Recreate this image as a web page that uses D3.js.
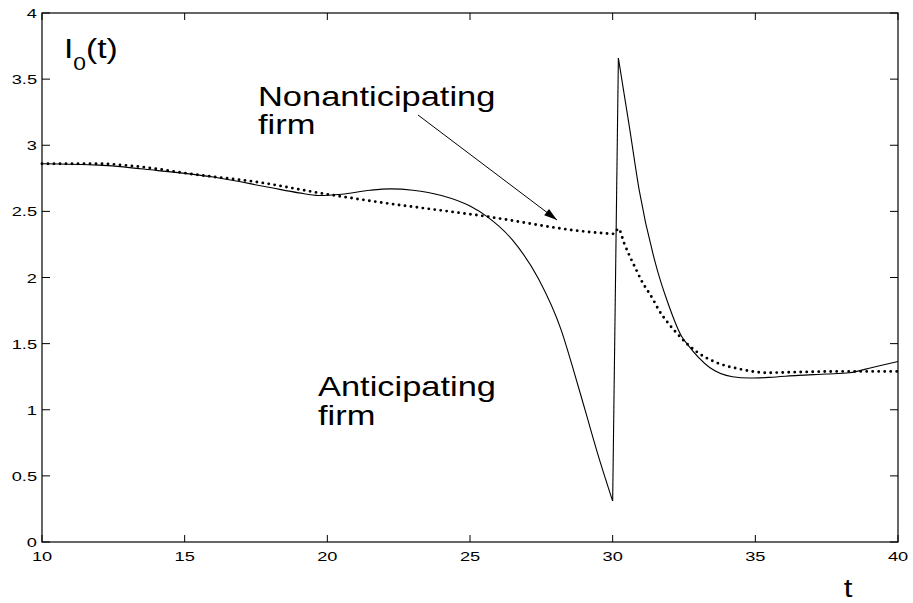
<!DOCTYPE html>
<html>
<head>
<meta charset="utf-8">
<script src="https://cdn.jsdelivr.net/npm/d3@7"></script>
<style>
  body { margin: 0; background: #fff; }
  svg { display: block; font-family: "Liberation Sans", Arial, sans-serif; }
</style>
</head>
<body>
<div id="chart"></div>
<script>
// values
const solidT = [10, 12, 14, 16, 18, 19, 19.7, 20.5, 21.5, 22.2, 23, 24, 25, 25.6, 26.5, 27.4, 28.2, 28.6, 29.07, 29.5, 30.0,
                30.2, 30.6, 30.93, 31.56, 31.9, 32.43, 32.6, 33.4, 34.2, 34.8, 35.5, 36.5, 37.5, 38.3, 39.1, 40];
const solidV = [2.86, 2.85, 2.81, 2.76, 2.68, 2.64, 2.62, 2.63, 2.66, 2.67, 2.66, 2.62, 2.54, 2.46, 2.28, 1.99, 1.60, 1.32, 0.97, 0.65, 0.31,
                3.66, 3.12, 2.66, 2.06, 1.83, 1.55, 1.50, 1.32, 1.25, 1.24, 1.245, 1.26, 1.27, 1.28, 1.32, 1.365];
const solidBreaks = [20, 21];   // sharp corners: bottom of the dip and top of the spike

const dotT = [10, 12, 13.1, 15.5, 17.6, 19.7, 21.8, 25.3, 29.4, 30.05,
              30.2, 30.4, 30.6, 30.8, 31.0, 31.4, 31.6, 32.0, 32.2, 32.6, 33.0, 33.6, 34.4, 35.4, 36.5, 38, 40];
const dotV = [2.86, 2.86, 2.845, 2.775, 2.72, 2.64, 2.57, 2.47, 2.34, 2.33,
              2.37, 2.26, 2.16, 2.07, 1.98, 1.84, 1.76, 1.64, 1.59, 1.50, 1.43, 1.36, 1.31, 1.28, 1.285, 1.29, 1.29];

const xTicks = [10, 15, 20, 25, 30, 35, 40];
const yTicks = [0, 0.5, 1, 1.5, 2, 2.5, 3, 3.5, 4];
const yTickLabels = ["0", "0.5", "1", "1.5", "2", "2.5", "3", "3.5", "4"];

const width = 913;
const height = 603;
const marginTop = 13;
const marginRight = 15;
const marginBottom = 61;
const marginLeft = 42;

const x = d3.scaleLinear([10, 40], [marginLeft, width - marginRight]);
const y = d3.scaleLinear([0, 4], [height - marginBottom, marginTop]);

const svg = d3.select("#chart").append("svg")
    .attr("width", width)
    .attr("height", height)
    .attr("viewBox", [0, 0, width, height]);

// text in the picture is wider than the font's natural shape
function label(px, py, str, size, anchor, sx) {
    return svg.append("text")
        .attr("transform", `translate(${px},${py}) scale(${sx},1)`)
        .attr("font-size", size)
        .attr("text-anchor", anchor)
        .attr("fill", "#000")
        .text(str);
}

// frame
svg.append("rect")
    .attr("x", x(10)).attr("y", y(4))
    .attr("width", x(40) - x(10)).attr("height", y(0) - y(4))
    .attr("fill", "none").attr("stroke", "#000").attr("stroke-width", 1.2);

// inward ticks on all four sides
const tickLen = 7;
const g = svg.append("g").attr("stroke", "#000").attr("stroke-width", 1);
xTicks.forEach(t => {
    g.append("line").attr("x1", x(t)).attr("x2", x(t)).attr("y1", y(0)).attr("y2", y(0) - tickLen);
    g.append("line").attr("x1", x(t)).attr("x2", x(t)).attr("y1", y(4)).attr("y2", y(4) + tickLen);
    label(x(t), y(0) + 19, String(t), 13.5, "middle", 1.35);
});
yTicks.forEach((v, i) => {
    g.append("line").attr("x1", x(10)).attr("x2", x(10) + tickLen + 1).attr("y1", y(v)).attr("y2", y(v));
    g.append("line").attr("x1", x(40)).attr("x2", x(40) - tickLen - 1).attr("y1", y(v)).attr("y2", y(v));
    label(x(10) - 5, y(v) + 5, yTickLabels[i], 13.5, "end", 1.35);
});

// split a series at its sharp corners and draw each piece as its own path
function pieces(ts, vs, breaks) {
    const pts = ts.map((t, i) => [t, vs[i]]);
    const cuts = [0, ...breaks, pts.length - 1];
    const out = [];
    for (let k = 0; k < cuts.length - 1; k++) out.push(pts.slice(cuts[k], cuts[k + 1] + 1));
    return out;
}

const line = d3.line()
    .x(d => x(d[0]))
    .y(d => y(d[1]))
    .curve(d3.curveMonotoneX);

pieces(solidT, solidV, solidBreaks).forEach(p => {
    svg.append("path")
        .attr("d", line(p))
        .attr("fill", "none")
        .attr("stroke", "#000")
        .attr("stroke-width", 1.1);
});

svg.append("path")
    .attr("d", line(dotT.map((t, i) => [t, dotV[i]])))
    .attr("fill", "none")
    .attr("stroke", "#000")
    .attr("stroke-width", 2.9)
    .attr("stroke-linecap", "round")
    .attr("stroke-dasharray", "0,6");

// annotations
label(258, 106, "Nonanticipating", 28, "start", 1.23);
label(258, 134, "firm", 28, "start", 1.23);
label(318, 396, "Anticipating", 28, "start", 1.23);
label(318, 425, "firm", 28, "start", 1.23);

const ax1 = 418, ay1 = 115, ax2 = 557, ay2 = 220;
svg.append("line")
    .attr("x1", ax1).attr("y1", ay1).attr("x2", ax2).attr("y2", ay2)
    .attr("stroke", "#000").attr("stroke-width", 1);
const ang = Math.atan2(ay2 - ay1, ax2 - ax1);
const hl = 13, hw = 4;
svg.append("path")
    .attr("d", `M${ax2},${ay2}` +
        `L${ax2 - hl * Math.cos(ang) + hw * Math.sin(ang)},${ay2 - hl * Math.sin(ang) - hw * Math.cos(ang)}` +
        `L${ax2 - hl * Math.cos(ang) - hw * Math.sin(ang)},${ay2 - hl * Math.sin(ang) + hw * Math.cos(ang)}Z`)
    .attr("fill", "#000");

// axis titles
const yl = svg.append("text")
    .attr("transform", "translate(64,58) scale(1.2,1)")
    .attr("font-size", 28)
    .attr("fill", "#000");
yl.append("tspan").text("I");
yl.append("tspan").attr("font-size", 19).attr("dy", 12).text("0");
yl.append("tspan").attr("dy", -12).text("(t)");

label(848, 597, "t", 26, "middle", 1.2);
</script>
</body>
</html>
